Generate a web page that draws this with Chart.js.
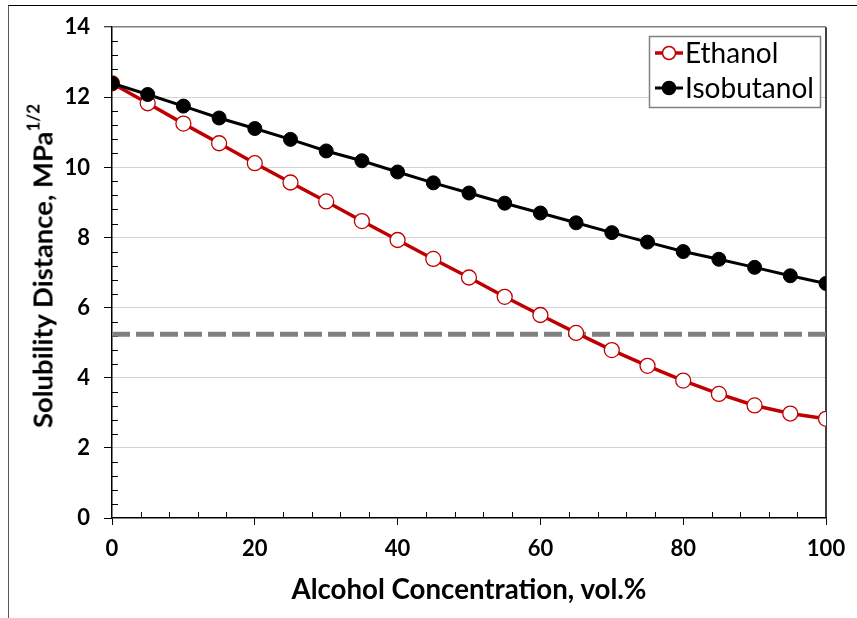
<!DOCTYPE html>
<html>
<head>
<meta charset="utf-8">
<script src="https://cdn.jsdelivr.net/npm/chart.js@4.4.1/dist/chart.umd.min.js"></script>
<style>
  html, body { margin: 0; padding: 0; background: #fff; overflow: hidden; }
  #wrap { position: relative; width: 857px; height: 618px; }
  #frame { position: absolute; left: 8px; top: 5px; width: 900px; height: 700px;
           border-top: 1.5px solid #000; border-left: 1.5px solid #595959; box-sizing: border-box; }
  canvas { position: absolute; left: 0; top: 0; }
  .ytitle { position: absolute; left: 42px; top: 266px; transform: translate(-50%, -50%) rotate(-90deg);
            white-space: nowrap; font-family: Lato, sans-serif; font-weight: bold; color: #000; }
  .ytitle sup { font-size: 0.62em; position: relative; top: -0.15em; vertical-align: super; line-height: 0; }
  .xtitle { position: absolute; left: 469px; top: 588px; transform: translate(-50%, -50%);
            white-space: nowrap; font-family: Lato, sans-serif; font-weight: bold; color: #000; }
</style>
</head>
<body>
<div id="wrap">
  <div id="frame"></div>
  <canvas id="c" width="857" height="618"></canvas>
  <div class="ytitle" id="ytitle">Solubility Distance, MPa<sup>1/2</sup></div>
  <div class="xtitle" id="xtitle">Alcohol Concentration, vol.%</div>
</div>
<script>
// ---- data ----
const concentrations = [0, 5, 10, 15, 20, 25, 30, 35, 40, 45, 50, 55, 60, 65, 70, 75, 80, 85, 90, 95, 100];
const ethanol    = [12.40, 11.83, 11.25, 10.69, 10.12, 9.57, 9.03, 8.47, 7.93, 7.39, 6.86, 6.31, 5.79, 5.28, 4.79, 4.34, 3.92, 3.54, 3.21, 2.98, 2.83];
const isobutanol = [12.40, 12.08, 11.75, 11.41, 11.11, 10.80, 10.47, 10.19, 9.87, 9.56, 9.27, 8.98, 8.70, 8.42, 8.14, 7.87, 7.60, 7.38, 7.15, 6.91, 6.69];
const thresholdX = [0, 100];
const thresholdY = [5.24, 5.24];
const seriesNames = ['Ethanol', 'Isobutanol'];
const xTickValues = [0, 20, 40, 60, 80, 100];
const yTickValues = [0, 2, 4, 6, 8, 10, 12, 14];

const RED = '#C00000';

function toPoints(xs, ys) { return xs.map((x, i) => ({ x: x, y: ys[i] })); }

function fitFont(text, weight, target, family) {
  const c = document.createElement('canvas').getContext('2d');
  c.font = weight + ' 100px ' + family;
  return 100 * target / c.measureText(text).width;
}

function start() {
  const tickSize = 22;
  const legendSize = fitFont('Isobutanol', 'normal', 129, 'Lato');
  const xt = document.getElementById('xtitle');
  xt.style.fontSize = fitFont('Alcohol Concentration, vol.%', 'bold', 356, 'Lato') + 'px';
  const yt = document.getElementById('ytitle');
  yt.style.fontSize = fitFont('Solubility Distance, MPa1/2', 'bold', 342, 'Lato') + 'px';

  const minorTicks = {
    id: 'minorTicks',
    beforeDatasetsDraw(chart) {
      const ctx = chart.ctx, xs = chart.scales.x, ys = chart.scales.y, a = chart.chartArea;
      ctx.save();
      ctx.strokeStyle = '#000';
      ctx.lineWidth = 1;
      ctx.beginPath();
      for (let k = 1; k < 35; k++) {
        if (k % 5 === 0) continue;
        const py = Math.round(ys.getPixelForValue(k * 0.4)) + 0.5;
        ctx.moveTo(a.left, py); ctx.lineTo(a.left + 6, py);
      }
      for (let k = 1; k < 25; k++) {
        if (k % 5 === 0) continue;
        const px = Math.round(xs.getPixelForValue(k * 4)) + 0.5;
        ctx.moveTo(px, a.bottom); ctx.lineTo(px, a.bottom - 6);
      }
      ctx.stroke();
      ctx.lineWidth = 1.5;
      ctx.beginPath();
      ctx.moveTo(a.right, a.top); ctx.lineTo(a.right, a.bottom);
      ctx.stroke();
      ctx.restore();
    }
  };

  const legendBox = {
    id: 'legendBox',
    afterDraw(chart) {
      const ctx = chart.ctx;
      const bx = 649, by = 36, bw = 171, bh = 71;
      ctx.save();
      ctx.fillStyle = '#fff';
      ctx.fillRect(bx, by, bw, bh);
      ctx.strokeStyle = '#808080';
      ctx.lineWidth = 1.5;
      ctx.strokeRect(bx + 0.5, by + 0.5, bw, bh);
      const rows = [
        { label: seriesNames[0], y: 53, color: RED, fill: '#fff', lw: 3.5 },
        { label: seriesNames[1], y: 88, color: '#000', fill: '#000', lw: 3 }
      ];
      rows.forEach(r => {
        ctx.strokeStyle = r.color;
        ctx.lineWidth = r.lw;
        ctx.beginPath(); ctx.moveTo(655, r.y); ctx.lineTo(683, r.y); ctx.stroke();
        ctx.beginPath(); ctx.arc(669, r.y, 6.5, 0, Math.PI * 2);
        ctx.fillStyle = r.fill; ctx.fill();
        ctx.lineWidth = 1.5; ctx.stroke();
        ctx.fillStyle = '#000';
        ctx.font = 'normal ' + legendSize + 'px Lato';
        ctx.textBaseline = 'middle';
        ctx.fillText(r.label, 685, r.y + 1);
      });
      ctx.restore();
    }
  };

  new Chart(document.getElementById('c'), {
    type: 'line',
    data: {
      datasets: [
        {
          label: seriesNames[1],
          data: toPoints(concentrations, isobutanol),
          borderColor: '#000', borderWidth: 3,
          pointRadius: 7, pointBackgroundColor: '#000', pointBorderColor: '#000', pointBorderWidth: 1,
          tension: 0
        },
        {
          label: seriesNames[0],
          data: toPoints(concentrations, ethanol),
          borderColor: RED, borderWidth: 3.5,
          pointRadius: 7.5, pointBackgroundColor: '#fff', pointBorderColor: RED, pointBorderWidth: 1.3,
          tension: 0
        },
        {
          label: 'threshold',
          data: toPoints(thresholdX, thresholdY),
          borderColor: '#808080', borderWidth: 5, borderDash: [18, 6],
          pointRadius: 0, tension: 0
        }
      ]
    },
    options: {
      responsive: false,
      animation: false,
      devicePixelRatio: 1,
      layout: { padding: { top: 27, right: 31, left: 0, bottom: 0 } },
      plugins: { legend: { display: false }, tooltip: { enabled: false } },
      scales: {
        x: {
          type: 'linear', min: 0, max: 100,
          afterFit(s) { s.height = 100; },
          afterBuildTicks(s) { s.ticks = xTickValues.map(v => ({ value: v })); },
          ticks: { color: '#000', font: { family: 'Lato', weight: 'bold', size: tickSize }, padding: 11, maxRotation: 0 },
          grid: { drawOnChartArea: false, drawTicks: true, tickLength: 7, tickColor: '#000', tickWidth: 1 },
          border: { display: true, color: '#000', width: 1.5 }
        },
        y: {
          min: 0, max: 14,
          afterFit(s) { s.width = 112; },
          afterBuildTicks(s) { s.ticks = yTickValues.map(v => ({ value: v })); },
          ticks: { color: '#000', font: { family: 'Lato', weight: 'bold', size: tickSize }, padding: 14 },
          grid: {
            drawOnChartArea: true, drawTicks: true, tickLength: 8, tickColor: '#000', tickWidth: 1,
            color: (c) => c.tick && c.tick.value === 14 ? '#7f7f7f' : (c.tick && c.tick.value === 0 ? 'rgba(0,0,0,0)' : '#a6a6a6'),
            lineWidth: (c) => c.tick && c.tick.value === 14 ? 1.5 : 1
          },
          border: {
            display: true, color: '#000', width: 1.5,
            dash: (c) => c.tick && c.tick.value === 14 ? [] : [1, 1]
          }
        }
      }
    },
    plugins: [minorTicks, legendBox]
  });
}

Promise.all([
  document.fonts.load('bold 20px Lato'),
  document.fonts.load('normal 20px Lato')
]).then(start, start);
</script>
</body>
</html>
